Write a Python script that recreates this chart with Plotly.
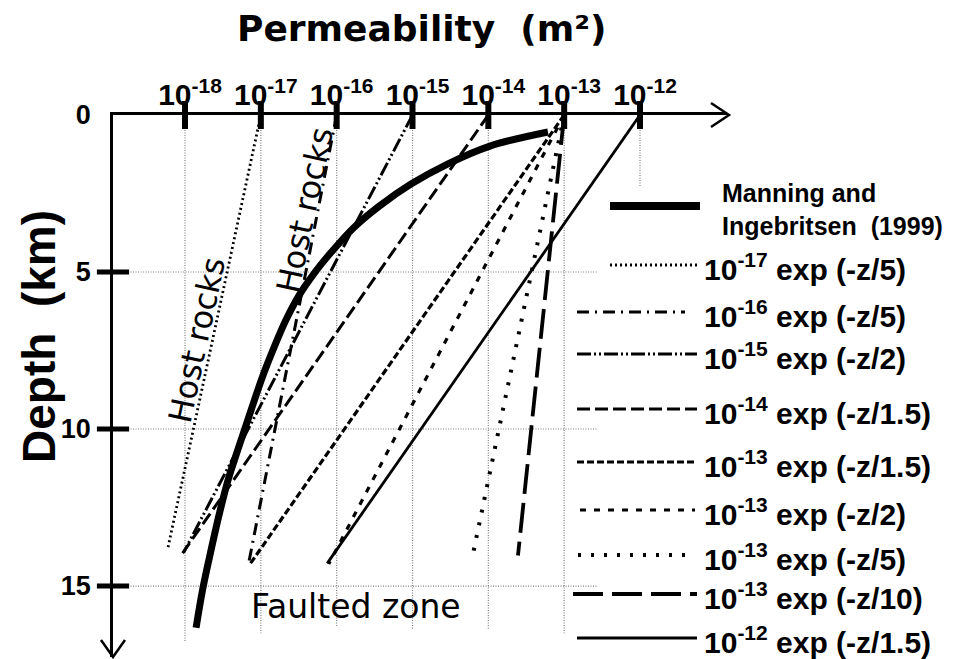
import plotly.graph_objects as go

# ---------------------------------------------------------------
# Permeability vs. depth: exponential decay models and the
# Manning & Ingebritsen (1999) crustal permeability profile
# ---------------------------------------------------------------

# Decade ticks along the permeability axis (m^2)
decades = [1e-18, 1e-17, 1e-16, 1e-15, 1e-14, 1e-13, 1e-12]
decade_labels = ["10<sup>-18</sup>", "10<sup>-17</sup>", "10<sup>-16</sup>",
                 "10<sup>-15</sup>", "10<sup>-14</sup>", "10<sup>-13</sup>",
                 "10<sup>-12</sup>"]
depth_ticks = [0, 5, 10, 15]

# Manning & Ingebritsen (1999) profile
mi_depth = [0.54, 0.99, 1.57, 2.20, 2.91, 3.58, 4.38, 5.05, 5.75, 6.52,
            7.32, 8.21, 9.07, 10.03, 10.83, 11.63, 12.68, 14.09, 15.14, 16.33]
mi_perm = [6.12e-14, 1.05e-14, 2.85e-15, 9.55e-16, 3.61e-16, 1.69e-16,
           8.41e-17, 5.02e-17, 3.18e-17, 2.15e-17, 1.54e-17, 1.10e-17,
           8.25e-18, 6.09e-18, 4.71e-18, 3.69e-18, 2.85e-18, 2.10e-18,
           1.70e-18, 1.40e-18]

# Exponential models k0 * exp(-z/a): surface value and deepest drawn point
model_labels = ["10<sup>-17</sup> exp (-z/5)", "10<sup>-16</sup> exp (-z/5)",
                "10<sup>-15</sup> exp (-z/2)", "10<sup>-14</sup> exp (-z/1.5)",
                "10<sup>-13</sup> exp (-z/1.5)", "10<sup>-13</sup> exp (-z/2)",
                "10<sup>-13</sup> exp (-z/5)", "10<sup>-13</sup> exp (-z/10)",
                "10<sup>-12</sup> exp (-z/1.5)"]
model_k0 = [1e-17, 1e-16, 1e-15, 1e-14, 1e-13, 1e-13, 1e-13, 1e-13, 1e-12]
model_z_end = [13.77, 14.28, 13.93, 13.95, 14.30, 14.30, 14.12, 14.03, 14.28]
model_k_end = [5.97e-19, 6.9e-18, 9.6e-19, 9.3e-19, 7.2e-18, 7.85e-17,
               6.1e-15, 2.46e-14, 7.5e-17]

# Line styles for each model
model_dash = ["2px,3px", "12px,6px,2px,6px", "14px,3px,2px,3px,2px,3px",
              "13px,5px", "7px,3px", "6px,8px", "3px,10px", "30px,9px", "solid"]
model_width = [2.8, 3, 3, 3, 3.2, 3.2, 4, 3.8, 2.8]

# Gridline extents
vgrid_depth_end = [16.8, 16.5, 16.3, 16.4, 16.4, 16.5, 2.3]
hgrid_depths = [5, 10, 15]
hgrid_perm_end = 2.8e-13

# ---------------------------------------------------------------
# Figure geometry (pixels)
W, H = 956, 659
X_LEFT, X_RIGHT = 113, 727
Y_TOP, Y_BOTTOM = 115, 657
LOG_RANGE = [-18.9495, -10.8527]
DEPTH_RANGE = [17.26, 0]


def pxx(x):
    return (x - X_LEFT) / (X_RIGHT - X_LEFT)


def pxy(y):
    return (Y_BOTTOM - y) / (Y_BOTTOM - Y_TOP)


fig = go.Figure()

GRID = dict(color="#808080", width=1.2, dash="1px,1.5px")

# Vertical gridlines at each decade
for k, zend in zip(decades, vgrid_depth_end):
    fig.add_trace(go.Scatter(x=[k, k], y=[0, zend], mode="lines",
                             line=GRID, hoverinfo="skip", showlegend=False))

# Horizontal gridlines
x_left_val = 10 ** LOG_RANGE[0]
for d in hgrid_depths:
    fig.add_trace(go.Scatter(x=[x_left_val, hgrid_perm_end], y=[d, d],
                             mode="lines", line=GRID, hoverinfo="skip",
                             showlegend=False))

# Exponential decay models
for lab, k0, z1, k1, dash, w in zip(model_labels, model_k0, model_z_end,
                                    model_k_end, model_dash, model_width):
    fig.add_trace(go.Scatter(x=[k0, k1], y=[0, z1], mode="lines",
                             line=dict(color="black", width=w, dash=dash),
                             name=lab, showlegend=False))

# Manning & Ingebritsen (1999)
fig.add_trace(go.Scatter(x=mi_perm, y=mi_depth, mode="lines",
                         line=dict(color="black", width=7, shape="spline",
                                   smoothing=1.0),
                         name="Manning and Ingebritsen (1999)",
                         showlegend=False))

# Heavy tick marks across the axes
fig.add_trace(go.Scatter(x=decades, y=[0] * len(decades), mode="markers",
                         marker=dict(symbol="line-ns", size=20,
                                     line=dict(color="black", width=6)),
                         cliponaxis=False, hoverinfo="skip", showlegend=False))
fig.add_trace(go.Scatter(x=[x_left_val] * 3, y=depth_ticks[1:], mode="markers",
                         marker=dict(symbol="line-ew", size=23,
                                     line=dict(color="black", width=5)),
                         cliponaxis=False, hoverinfo="skip", showlegend=False))

shapes = []
# Arrow heads on the axes
shapes.append(dict(type="path", xref="paper", yref="paper",
                   path=f"M {pxx(711)},{pxy(103)} L {pxx(729)},{pxy(115)} L {pxx(711)},{pxy(127)}",
                   line=dict(color="black", width=2.5)))
shapes.append(dict(type="path", xref="paper", yref="paper",
                   path=f"M {pxx(101)},{pxy(640)} L {pxx(113)},{pxy(657)} L {pxx(125)},{pxy(640)}",
                   line=dict(color="black", width=2.5)))

# Legend samples
leg_rows = [265, 312, 354, 409, 462, 510, 555, 594, 638]
leg_x0 = [610, 577, 577, 577, 577, 580, 578, 573, 577]
leg_x1 = [698, 685, 697, 697, 697, 695, 690, 697, 697]
for y, x0, x1, dash, w in zip(leg_rows, leg_x0, leg_x1, model_dash, model_width):
    shapes.append(dict(type="line", xref="paper", yref="paper",
                       x0=pxx(x0), x1=pxx(x1), y0=pxy(y), y1=pxy(y),
                       line=dict(color="black", width=w, dash=dash)))
shapes.append(dict(type="line", xref="paper", yref="paper",
                   x0=pxx(610), x1=pxx(700), y0=pxy(206), y1=pxy(206),
                   line=dict(color="black", width=8)))

annotations = []
LEG_FONT = dict(family="Liberation Sans", size=30, color="black", weight="bold")
for y, lab in zip(leg_rows, model_labels):
    annotations.append(dict(xref="paper", yref="paper", x=pxx(702), y=pxy(y + 2),
                            text=lab, showarrow=False, xanchor="left",
                            yanchor="middle", font=LEG_FONT))
annotations.append(dict(xref="paper", yref="paper", x=pxx(720), y=pxy(209),
                        text="Manning and<br>Ingebritsen  (1999)",
                        showarrow=False, xanchor="left", yanchor="middle",
                        align="left",
                        font=dict(family="Liberation Sans", size=25,
                                  color="black", weight="bold")))

# Titles
annotations.append(dict(xref="paper", yref="paper", x=pxx(422), y=pxy(28),
                        text="Permeability  (m²)", showarrow=False,
                        xanchor="center", yanchor="middle",
                        font=dict(family="DejaVu Sans", size=36, color="black",
                                  weight="bold")))
annotations.append(dict(xref="paper", yref="paper", x=pxx(39), y=pxy(337),
                        text="Depth  (km)", showarrow=False, textangle=-90,
                        xanchor="center", yanchor="middle",
                        font=dict(family="Liberation Sans", size=46,
                                  color="black", weight="bold")))

# Region labels
TXT = dict(family="DejaVu Sans", size=32, color="black")
annotations.append(dict(xref="paper", yref="paper", x=pxx(197), y=pxy(340),
                        text="Host rocks", showarrow=False, textangle=-78,
                        xanchor="center", yanchor="middle", font=TXT))
annotations.append(dict(xref="paper", yref="paper", x=pxx(305), y=pxy(210),
                        text="Host rocks", showarrow=False, textangle=-78,
                        xanchor="center", yanchor="middle", font=TXT))
annotations.append(dict(xref="paper", yref="paper", x=pxx(356), y=pxy(606),
                        text="Faulted zone", showarrow=False,
                        xanchor="center", yanchor="middle",
                        font=dict(family="DejaVu Sans", size=33, color="black")))

fig.update_layout(
    width=W, height=H,
    margin=dict(l=X_LEFT, r=W - X_RIGHT, t=Y_TOP, b=H - Y_BOTTOM, pad=0),
    paper_bgcolor="white", plot_bgcolor="white",
    shapes=shapes, annotations=annotations,
    xaxis=dict(type="log", range=LOG_RANGE, side="top", showgrid=False,
               zeroline=False, showline=True, linecolor="black", linewidth=2.5,
               tickvals=decades, ticktext=decade_labels, ticks="",
               ticklabelstandoff=-5, ticklabelshift=5,
               tickfont=dict(family="Liberation Sans", size=30, color="black",
                             weight="bold")),
    yaxis=dict(range=DEPTH_RANGE, showgrid=False, zeroline=False,
               showline=True, linecolor="black", linewidth=2.5,
               tickvals=depth_ticks, ticktext=[str(v) for v in depth_ticks],
               ticks="", ticklabelstandoff=14,
               tickfont=dict(family="Liberation Sans", size=27, color="black",
                             weight="bold")),
)

fig.write_html("out.html")
